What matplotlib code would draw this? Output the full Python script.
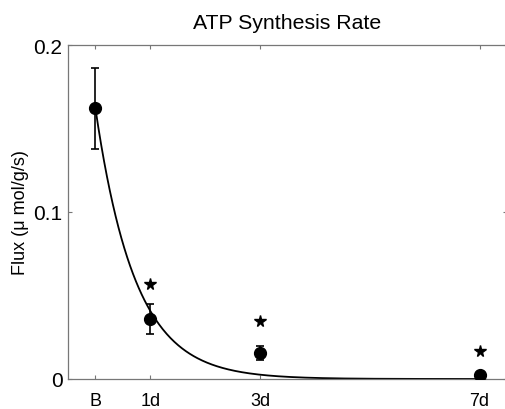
import numpy as np
import matplotlib
matplotlib.use("Agg")
import matplotlib.pyplot as plt

plt.rcParams['font.family'] = ['Liberation Sans', 'DejaVu Sans']

# Data
time_days = [0, 1, 3, 7]
tick_labels = ["B", "1d", "3d", "7d"]
flux_mean = [0.162, 0.036, 0.0155, 0.0025]
flux_err = [0.024, 0.009, 0.004, 0.0]
star_days = [1, 3, 7]
star_values = [0.057, 0.0348, 0.0168]
# exponential fit parameters (curve shown in chart)
fit_amplitude = 0.162
fit_rate = 1.38
fit_range = [0, 7]

fig = plt.figure(figsize=(5.05, 4.10), dpi=100)
ax = fig.add_axes([68/505, 30/410, (507-68)/505, (380-46)/410])

t = np.linspace(fit_range[0], fit_range[1], 400)
ax.plot(t, fit_amplitude*np.exp(-fit_rate*t), color='black', lw=1.3, zorder=2)

ax.errorbar(time_days, flux_mean, yerr=flux_err, fmt='o', color='black',
            ms=8.5, capsize=3, elinewidth=1.2, capthick=1.2, zorder=3)
ax.plot(star_days, star_values, '*', color='black', ms=8.5, zorder=3)

ax.set_xlim(-0.5, 7.5)
ax.set_ylim(0, 0.2)
ax.set_xticks(time_days)
ax.set_xticklabels(tick_labels)
ax.set_yticks([0, 0.1, 0.2])
ax.set_yticklabels(["0", "0.1", "0.2"])
ax.tick_params(direction='in', top=True, right=True, length=3, width=0.8,
               color='#777777')
ax.tick_params(axis='x', pad=9.5, labelsize=13)
ax.tick_params(axis='y', pad=4, labelsize=15)
for s in ax.spines.values():
    s.set_color('#777777')
    s.set_linewidth(0.9)
ax.spines['right'].set_visible(False)

ax.set_ylabel("Flux (\u03bc mol/g/s)", fontsize=13, labelpad=3)
ax.set_title("ATP Synthesis Rate", fontsize=15.3, pad=12)

fig.savefig("out.png", dpi=100)
